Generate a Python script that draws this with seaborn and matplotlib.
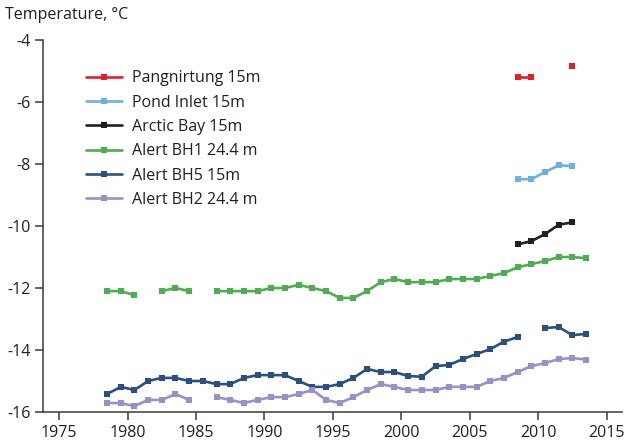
import numpy as np
import pandas as pd
import matplotlib
matplotlib.use("Agg")
import matplotlib.pyplot as plt
import seaborn as sns

# station series (deg C), NaN = no data that year
years_long = np.arange(1978.5, 2014.0, 1.0)
years_short = np.arange(2008.5, 2013.0, 1.0)

pangnirtung = [-5.20, -5.20, np.nan, np.nan, -4.85]
pond_inlet = [-8.49, -8.49, -8.26, -8.04, -8.07]
arctic_bay = [-10.59, -10.49, -10.26, -9.96, -9.88]
alert_bh1 = [-12.10, -12.10, -12.23, np.nan, -12.10, -12.00, -12.10, np.nan,
             -12.10, -12.10, -12.10, -12.10, -12.00, -12.00, -11.90, -12.00,
             -12.10, -12.32, -12.32, -12.10, -11.81, -11.71, -11.81, -11.81,
             -11.81, -11.71, -11.71, -11.71, -11.61, -11.52, -11.33, -11.23,
             -11.13, -11.00, -11.00, -11.04]
alert_bh5 = [-15.42, -15.19, -15.29, -15.00, -14.90, -14.90, -15.00, -15.00,
             -15.10, -15.10, -14.90, -14.81, -14.81, -14.81, -15.00, -15.19,
             -15.19, -15.10, -14.90, -14.61, -14.71, -14.71, -14.84, -14.86,
             -14.52, -14.48, -14.29, -14.13, -13.97, -13.73, -13.58, np.nan,
             -13.29, -13.26, -13.52, -13.48]
alert_bh2 = [-15.71, -15.71, -15.81, -15.61, -15.61, -15.42, -15.61, np.nan,
             -15.52, -15.61, -15.71, -15.61, -15.52, -15.52, -15.42, -15.29,
             -15.61, -15.71, -15.52, -15.29, -15.10, -15.19, -15.29, -15.29,
             -15.29, -15.19, -15.19, -15.19, -15.00, -14.90, -14.71, -14.52,
             -14.42, -14.29, -14.26, -14.31]

names = ["Pangnirtung 15m", "Pond Inlet 15m", "Arctic Bay 15m",
         "Alert BH1 24.4 m", "Alert BH5 15m", "Alert BH2 24.4 m"]
colors = ["#ed1c24", "#6cb2df", "#231f20", "#4cae50", "#2a5083", "#9790c9"]

series = [(years_short, pangnirtung), (years_short, pond_inlet),
          (years_short, arctic_bay), (years_long, alert_bh1),
          (years_long, alert_bh5), (years_long, alert_bh2)]

# long table, with a segment id so gaps stay gaps
rows = []
for name, (yrs, vals) in zip(names, series):
    vals = np.asarray(vals, dtype=float)
    seg = np.cumsum(np.isnan(vals))
    for yr, v, s in zip(yrs, vals, seg):
        if not np.isnan(v):
            rows.append({"year": yr, "temp": v, "station": name, "seg": f"{name}-{s}"})
df = pd.DataFrame(rows)

sns.set_style("white")
plt.rcParams['font.family'] = ['Open Sans', 'DejaVu Sans']
plt.rcParams['axes.unicode_minus'] = False

fig = plt.figure(figsize=(6.25, 4.46), dpi=100)
ax = fig.add_axes([0.069, 0.0762, 0.9257, 0.8341])

sns.lineplot(data=df, x="year", y="temp", hue="station", units="seg",
             estimator=None, hue_order=names, palette=colors,
             marker="s", markersize=4.2, markeredgewidth=0, linewidth=1.9,
             ax=ax)

ax.set_xlim(1973.83, 2016.1)
ax.set_ylim(-16, -4)
ax.set_xticks(range(1975, 2016, 5))
ax.set_yticks(range(-16, -3, 2))
ax.set_xlabel("")
ax.set_ylabel("")
for side in ["top", "right"]:
    ax.spines[side].set_visible(False)
for side in ["left", "bottom"]:
    ax.spines[side].set_color("#3a3a3a")
    ax.spines[side].set_linewidth(1.1)
ax.tick_params(axis="both", direction="out", length=6, width=1.1,
               color="#3a3a3a", labelsize=11.5, labelcolor="#231f20", pad=3,
               left=True, bottom=True)

fig.text(0.008, 0.966, "Temperature, °C", fontsize=11.5, color="#231f20",
         va="center", ha="left")

leg = ax.legend(loc="upper left", bbox_to_anchor=(0.05, 0.957), frameon=False,
                fontsize=11.5, handlelength=2.2, handletextpad=0.65,
                labelspacing=0.52)
for t in leg.get_texts():
    t.set_color("#231f20")

plt.savefig("out.png", dpi=100)
